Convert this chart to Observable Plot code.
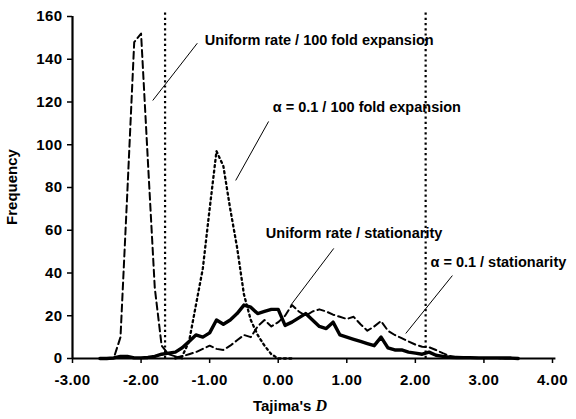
<!DOCTYPE html>
<html><head><meta charset="utf-8">
<script src="https://cdn.jsdelivr.net/npm/d3@7"></script>
<script src="https://cdn.jsdelivr.net/npm/@observablehq/plot@0.6"></script>
<style>
html,body{margin:0;padding:0;background:#fff;}
svg text{font-family:"Liberation Sans",Arial,Helvetica,sans-serif;}
g[aria-label="x-axis tick label"] text, g[aria-label="y-axis tick label"] text{letter-spacing:0.4px;}
</style></head><body><div id="chart"></div>
<script>
// Tajima's D bin centres
const dBins = [-2.6,-2.5,-2.4,-2.3,-2.2,-2.1,-2.0,-1.9,-1.8,-1.7,-1.6,-1.5,-1.4,-1.3,-1.2,-1.1,-1.0,-0.9,-0.8,-0.7,-0.6,-0.5,-0.4,-0.3,-0.2,-0.1,0.0,0.1,0.2,0.3,0.4,0.5,0.6,0.7,0.8,0.9,1.0,1.1,1.2,1.3,1.4,1.5,1.6,1.7,1.8,1.9,2.0,2.1,2.2,2.3,2.4,2.5,2.6,2.7,2.8,2.9,3.0,3.1,3.2,3.3,3.4,3.5];

// Uniform rate / stationarity (solid)
const uniformStationarity = [0,0,0.3,1,1,0.3,0.3,0.5,1,2,2.5,3,5,8,11,10,12,18,16,18,21,25,24,21,22,23,23,15.5,17,19,21,18,15,14,17,11,10,9,8,7,6,10,5,4,4,3,2.5,2,3,1.5,1,0.6,0.5,0.4,0.4,0.3,0.3,0.3,0.3,0.2,0.2,0];

// alpha = 0.1 / stationarity (dashed)
const alphaStationarity = [null,null,null,null,null,null,null,null,null,null,null,0.5,1,2,3,4.5,6,4.5,4,6,8.5,11,10,15,18,15,17,20,25,22,20,22,23,22,20.5,19.5,18.5,19.5,16,13,15,17.5,13,11,9.5,8,6.5,5.5,5.3,4,2.5,1.2,0.6,0.4,0.3,0.3,0.2,0.2,0.2,0.1,0.1,0];

// Uniform rate / 100 fold expansion (dashed)
const uniformExpansion = [null,0,0,10,78,148,152,92,33,6,2,1,0,null,null,null,null,null,null,null,null,null,null,null,null,null,null,null,null,null,null,null,null,null,null,null,null,null,null,null,null,null,null,null,null,null,null,null,null,null,null,null,null,null,null,null,null,null,null,null,null,null];

// alpha = 0.1 / 100 fold expansion (dotted)
const alphaExpansion = [null,null,null,null,null,null,null,null,null,null,null,0,1,8,25,42,70,97,90,70,52,30,18,11,6,2,0,0,0,null,null,null,null,null,null,null,null,null,null,null,null,null,null,null,null,null,null,null,null,null,null,null,null,null,null,null,null,null,null,null,null,null];

const xTicks = [-3,-2,-1,0,1,2,3,4];
const xTickLabels = ["-3.00","-2.00","-1.00","0.00","1.00","2.00","3.00","4.00"];
const yTicks = [0,20,40,60,80,100,120,140,160];

// critical values (vertical dotted lines)
const critD = [-1.65, 2.15];
const critTop = 163;

// annotations
const annLabels = ["Uniform rate / 100 fold expansion","α = 0.1 / 100 fold expansion","Uniform rate / stationarity","α = 0.1 / stationarity"];
const annD = [-1.07, -0.08, -0.18, 2.22];
const annF = [148.8, 117.4, 58.5, 44.9];
const leadD1 = [-1.18, -0.14, 0.81, 2.54];
const leadF1 = [147.5, 110.9, 51.5, 38.8];
const leadD2 = [-1.83, -0.62, 0.18, 1.86];
const leadF2 = [120.7, 83.3, 24.8, 11.7];

const rows = s => dBins.map((d,i)=>({D:d, F:s[i]}));
const ann = annLabels.map((t,i)=>({t, x:annD[i], y:annF[i], x1:leadD1[i], y1:leadF1[i], x2:leadD2[i], y2:leadF2[i]}));

const W=576, H=419, mL=72, mR=24, mT=16, mB=61;
const font = '"Liberation Sans",Arial,Helvetica,sans-serif';

const plot = Plot.plot({
  width:W, height:H, marginLeft:mL, marginRight:mR, marginTop:mT, marginBottom:mB,
  style:{fontFamily:font, fontSize:"15px", fontWeight:"bold", color:"black", background:"white", overflow:"visible"},
  x:{domain:[-3,4]},
  y:{domain:[0,160]},
  marks:[
    Plot.axisX({ticks:xTicks, tickFormat:d=>xTickLabels[xTicks.indexOf(d)], tickSize:5, tickPadding:11, label:null, strokeWidth:1.5, fontSize:15, fontWeight:"bold"}),
    Plot.axisY({ticks:yTicks, tickSize:5, tickPadding:5, label:null, strokeWidth:1.5, fontSize:15, fontWeight:"bold"}),
    Plot.ruleY([0], {x1:-3, x2:4.05, stroke:"black", strokeWidth:2.2}),
    Plot.ruleX([-3], {y1:0, y2:160, stroke:"black", strokeWidth:2.2}),
    Plot.ruleX(critD, {y1:0, y2:critTop, stroke:"black", strokeWidth:2.2, strokeDasharray:"2.2,3"}),
    Plot.line(rows(alphaExpansion), {x:"D", y:"F", stroke:"black", strokeWidth:2.3, strokeDasharray:"2,3.4"}),
    Plot.line(rows(uniformExpansion), {x:"D", y:"F", stroke:"black", strokeWidth:2, strokeDasharray:"7,4"}),
    Plot.line(rows(alphaStationarity), {x:"D", y:"F", stroke:"black", strokeWidth:2, strokeDasharray:"7,4"}),
    Plot.line(rows(uniformStationarity), {x:"D", y:"F", stroke:"black", strokeWidth:3.4, strokeLinejoin:"round"}),
    Plot.link(ann, {x1:"x1", y1:"y1", x2:"x2", y2:"y2", stroke:"black", strokeWidth:1}),
    Plot.text(ann, {x:"x", y:"y", text:"t", textAnchor:"start", lineAnchor:"middle", fontSize:14.5, fontWeight:"bold", fill:"black"})
  ]
});

const svg = d3.select(plot);
// x axis title with italic D
const xt = svg.append("text")
  .attr("x", 290).attr("y", 407)
  .attr("text-anchor","middle").attr("dominant-baseline","middle")
  .attr("font-size", 15).attr("font-weight","bold").attr("fill","black");
xt.append("tspan").text("Tajima's ");
xt.append("tspan").attr("font-style","italic").attr("font-family",'"Liberation Serif","Times New Roman",serif').attr("font-size",16).text("D");
// y axis title
svg.append("text")
  .attr("transform", `translate(13,${(mT + H - mB)/2}) rotate(-90)`)
  .attr("text-anchor","middle").attr("dominant-baseline","middle")
  .attr("font-size", 15).attr("font-weight","bold").attr("fill","black")
  .text("Frequency");

document.getElementById("chart").appendChild(plot);
</script>
</body></html>
